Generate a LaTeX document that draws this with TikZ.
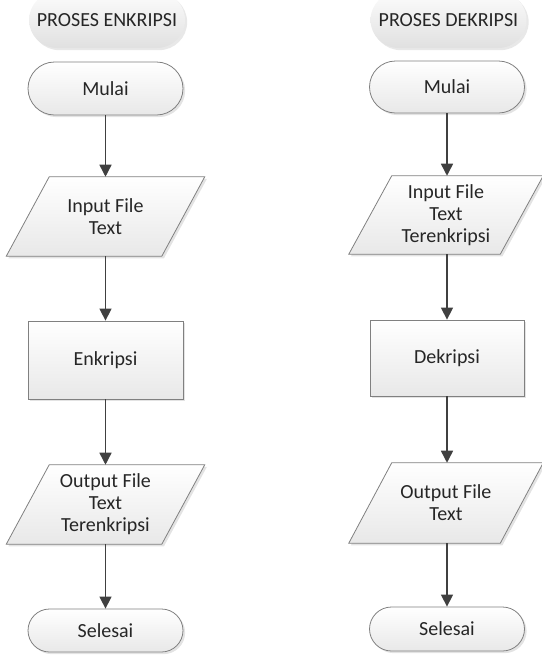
\documentclass[tikz,border=0pt]{standalone}
\usepackage{fontspec}
\setmainfont{Carlito}
\usetikzlibrary{shapes.misc,arrows.meta,shadows}
\pgfdeclarelayer{bg}
\pgfsetlayers{bg,main}
\newlength\upx \setlength\upx{0.75pt}
\definecolor{edgec}{HTML}{808080}
\definecolor{arrc}{HTML}{404040}
\definecolor{txtc}{HTML}{262626}
\tikzset{
 base/.style={font=\fontsize{15}{16.5}\selectfont, text=txtc, align=center, inner sep=0pt},
 fillsh/.style={top color=white, bottom color=black!9,
   drop shadow={shadow xshift=1.6pt, shadow yshift=-1.6pt, opacity=0.22}},
 term/.style={base, rounded rectangle, draw=edgec, line width=0.6pt, fillsh, minimum width=155\upx},
 titlebox/.style={base, rounded rectangle, top color=black!1, bottom color=black!12,
   drop shadow={shadow xshift=1.6pt, shadow yshift=-1.6pt, opacity=0.18},
   minimum width=156\upx, minimum height=56\upx},
 procbox/.style={base, rectangle, draw=edgec, line width=0.6pt, fillsh, minimum width=155\upx},
 iobox/.style={base, rectangle, minimum width=155\upx, minimum height=79\upx},
 iofill/.style={draw=edgec, line width=0.6pt, fillsh},
 flow/.style={draw=arrc, line width=1.1pt, -{Triangle[length=9pt,width=9pt]}},
}
\newcommand\ioshape[1]{\begin{pgfonlayer}{bg}\path[iofill] ([xshift=-21.5\upx]#1.south west) -- ([xshift=-21.5\upx]#1.south east) -- ([xshift=21.5\upx]#1.north east) -- ([xshift=21.5\upx]#1.north west) -- cycle;\end{pgfonlayer}}
\begin{document}
\begin{tikzpicture}[x=0.75pt,y=0.75pt]
\clip (0,0) rectangle (542,-661);
% left column
\node[titlebox] (t1) at (107,-20) {PROSES ENKRIPSI};
\node[term, minimum height=53\upx] (m1) at (105.5,-88.5) {Mulai};
\node[iobox] (in1) at (105.5,-216.5) {Input File\\Text};
\ioshape{in1}
\node[procbox, minimum height=78\upx] (p1) at (105.5,-360) {Enkripsi};
\node[iobox] (out1) at (105.5,-504.5) {Output File\\Text\\Terenkripsi};
\ioshape{out1}
\node[term, minimum height=43\upx] (s1) at (105.5,-630.5) {Selesai};
% right column
\node[titlebox] (t2) at (448.5,-20) {PROSES DEKRIPSI};
\node[term, minimum height=52\upx] (m2) at (447,-87) {Mulai};
\node[iobox, minimum width=151\upx, minimum height=78\upx] (in2) at (446,-215) {Input File\\Text\\Terenkripsi};
\ioshape{in2}
\node[procbox, minimum width=154\upx, minimum height=76\upx] (p2) at (447,-358) {Dekripsi};
\node[iobox, minimum width=151\upx, minimum height=80\upx] (out2) at (446,-503) {Output File\\Text};
\ioshape{out2}
\node[term, minimum height=44\upx] (s2) at (447,-629) {Selesai};
% connectors
\draw[flow] (m1.south) -- (in1.north);
\draw[flow] (in1.south) -- (p1.north);
\draw[flow] (p1.south) -- (out1.north);
\draw[flow] (out1.south) -- (s1.north);
\draw[flow] (m2.south) -- (m2.south |- in2.north);
\draw[flow] (m2.south |- in2.south) -- (p2.north);
\draw[flow] (p2.south) -- (p2.south |- out2.north);
\draw[flow] (p2.south |- out2.south) -- (s2.north);
\end{tikzpicture}
\end{document}
